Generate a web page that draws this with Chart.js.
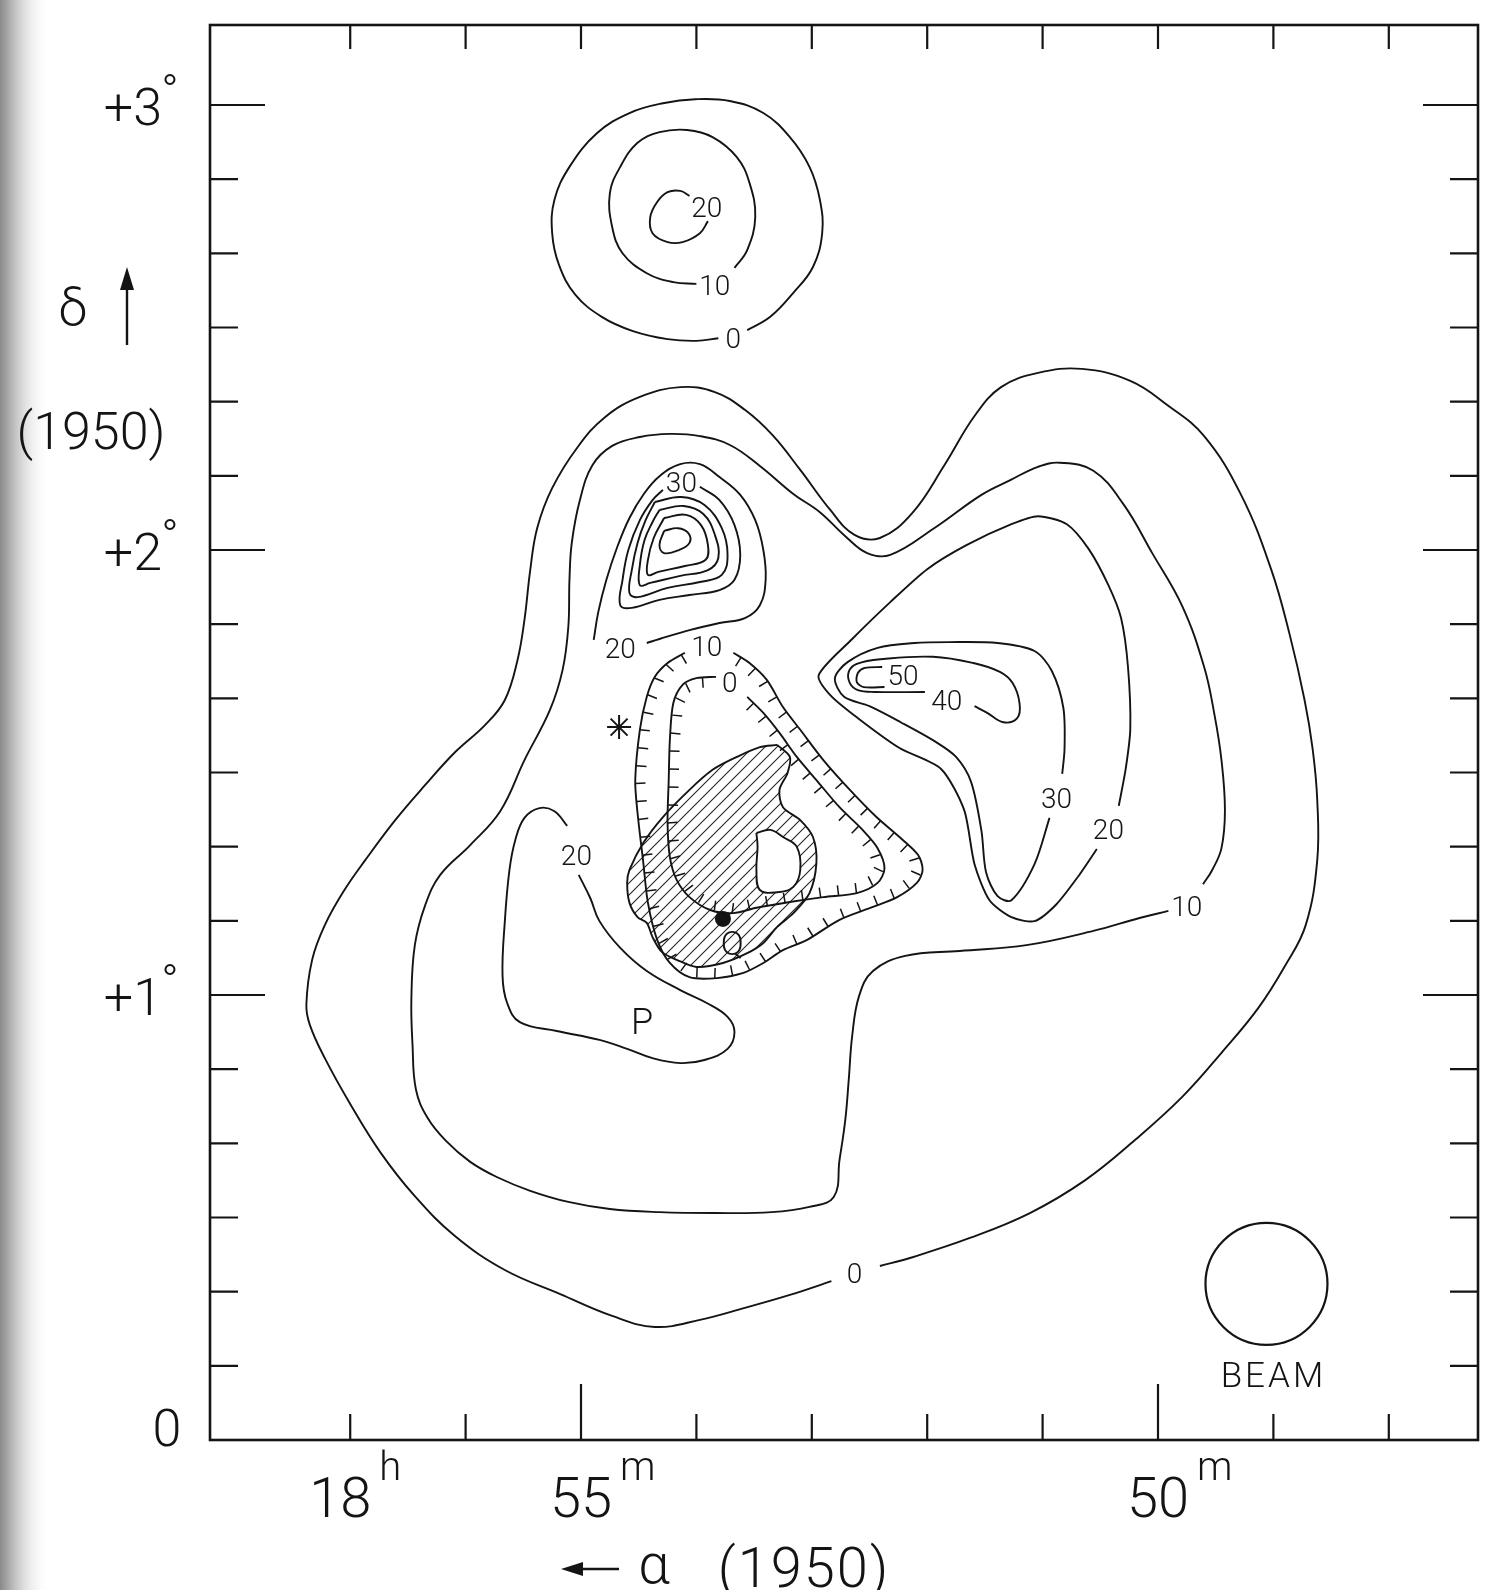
<!DOCTYPE html>
<html>
<head>
<meta charset="utf-8">
<script src="https://cdn.jsdelivr.net/npm/chart.js@4.4.1/dist/chart.umd.min.js"></script>
<style>
  html, body { margin: 0; padding: 0; background: #fff; }
  #wrap { width: 1490px; height: 1590px; }
</style>
</head>
<body>
<div id="wrap"><canvas id="map" width="1490" height="1590"></canvas></div>
<script>
// x = right ascension in minutes of time (18h xx m), y = declination in degrees (1950)

// big complex, outer 0 contour (open at its label)
const outer0 = [[52.83,0.357],[53.19,0.326],[53.58,0.297],[53.97,0.270],[54.36,0.254],[54.73,0.279],[55.18,0.328],[55.66,0.382],[56.09,0.458],[56.44,0.548],[56.74,0.647],[57.00,0.755],[57.22,0.858],[57.35,0.933],[57.38,0.978],[57.33,1.079],[57.22,1.157],[57.05,1.236],[56.87,1.303],[56.61,1.393],[56.35,1.472],[56.09,1.546],[55.83,1.607],[55.66,1.663],[55.55,1.753],[55.49,1.843],[55.44,1.955],[55.38,2.049],[55.25,2.139],[55.03,2.231],[54.79,2.299],[54.49,2.344],[54.14,2.366],[53.84,2.355],[53.58,2.315],[53.34,2.258],[53.10,2.180],[52.84,2.090],[52.63,2.034],[52.41,2.027],[52.13,2.083],[51.85,2.191],[51.59,2.301],[51.36,2.366],[51.04,2.398],[50.66,2.407],[50.24,2.380],[49.92,2.326],[49.60,2.256],[49.28,2.124],[49.02,1.957],[48.86,1.811],[48.73,1.663],[48.66,1.553],[48.62,1.438],[48.62,1.303],[48.72,1.157],[48.90,1.065],[49.13,0.971],[49.45,0.870],[49.79,0.771],[50.20,0.674],[50.63,0.584],[51.11,0.510],[51.63,0.454],[52.15,0.409],[52.41,0.391]];

const outer10 = [[49.91,1.189],[50.16,1.173],[50.56,1.144],[51.14,1.112],[51.72,1.099],[52.19,1.088],[52.47,1.054],[52.59,0.998],[52.65,0.908],[52.68,0.809],[52.71,0.719],[52.76,0.629],[52.81,0.546],[53.02,0.524],[53.35,0.512],[53.84,0.510],[54.32,0.512],[54.75,0.519],[55.11,0.535],[55.44,0.560],[55.73,0.591],[55.96,0.625],[56.17,0.672],[56.33,0.724],[56.43,0.787],[56.46,0.888],[56.47,0.991],[56.44,1.112],[56.35,1.202],[56.22,1.270],[55.96,1.337],[55.70,1.413],[55.49,1.528],[55.27,1.640],[55.16,1.730],[55.11,1.827],[55.10,1.933],[55.08,2.016],[55.01,2.112],[54.90,2.191],[54.73,2.234],[54.49,2.254],[54.23,2.261],[53.97,2.256],[53.71,2.236],[53.45,2.189],[53.16,2.126],[52.93,2.085],[52.71,2.031],[52.52,1.993],[52.32,1.989],[51.94,2.049],[51.53,2.124],[51.28,2.157],[51.04,2.187],[50.85,2.196],[50.56,2.178],[50.30,2.103],[50.05,1.993],[49.79,1.874],[49.60,1.737],[49.51,1.629],[49.45,1.528],[49.42,1.416],[49.45,1.330],[49.53,1.281],[49.61,1.249]];

// 20 contour round P
const contourP20 = [[55.02,1.270],[54.92,1.218],[54.84,1.166],[54.66,1.106],[54.43,1.054],[54.14,1.011],[53.91,0.982],[53.73,0.951],[53.67,0.917],[53.73,0.879],[53.93,0.854],[54.14,0.847],[54.38,0.858],[54.60,0.879],[54.84,0.899],[55.21,0.919],[55.53,0.939],[55.64,0.982],[55.68,1.043],[55.66,1.166],[55.62,1.281],[55.57,1.348],[55.49,1.398],[55.36,1.420],[55.23,1.413],[55.12,1.380]];

// northern peak near 18h54m, +2 deg
const peak20 = [[54.43,1.791],[54.32,1.800],[54.06,1.820],[53.80,1.836],[53.58,1.847],[53.45,1.876],[53.40,1.933],[53.42,2.000],[53.49,2.067],[53.62,2.124],[53.80,2.164],[53.97,2.193],[54.14,2.193],[54.32,2.166],[54.45,2.128],[54.58,2.072],[54.69,2.004],[54.78,1.933],[54.85,1.861],[54.89,1.798]];
const peak30 = [[53.97,2.142],[53.80,2.112],[53.67,2.056],[53.62,1.989],[53.67,1.933],[53.80,1.910],[54.06,1.899],[54.32,1.888],[54.56,1.870],[54.66,1.876],[54.64,1.933],[54.59,2.000],[54.49,2.067],[54.38,2.112],[54.29,2.135]];
const peakRing1 = [[54.36,2.108],[54.13,2.119],[53.93,2.101],[53.78,2.049],[53.73,1.989],[53.78,1.944],[53.97,1.928],[54.25,1.915],[54.51,1.894],[54.58,1.903],[54.56,1.955],[54.51,2.016],[54.44,2.067]];
const peakRing2 = [[54.32,2.090],[54.11,2.099],[53.94,2.081],[53.84,2.034],[53.81,1.982],[53.90,1.955],[54.14,1.942],[54.40,1.926],[54.49,1.921],[54.49,1.966],[54.45,2.022],[54.38,2.063]];
const peakRing3 = [[54.28,2.072],[54.09,2.079],[53.96,2.056],[53.90,2.011],[53.92,1.978],[54.10,1.964],[54.33,1.951],[54.42,1.944],[54.42,1.978],[54.37,2.027]];
const peakRing4 = [[54.28,2.043],[54.16,2.049],[54.07,2.038],[54.06,2.016],[54.15,2.000],[54.28,1.993],[54.32,2.011]];

// eastern ridge near 18h52m
const ridge20 = [[50.34,1.425],[50.28,1.508],[50.24,1.598],[50.26,1.737],[50.32,1.847],[50.43,1.921],[50.60,2.002],[50.79,2.058],[51.04,2.076],[51.27,2.058],[51.66,2.011],[52.00,1.957],[52.32,1.883],[52.65,1.800],[52.94,1.719],[52.84,1.674],[52.60,1.622],[52.24,1.555],[51.88,1.508],[51.68,1.416],[51.59,1.294],[51.46,1.213],[51.27,1.175],[51.07,1.166],[50.88,1.204],[50.69,1.267],[50.53,1.328]];
const ridge30 = [[50.83,1.497],[50.81,1.553],[50.82,1.645],[50.92,1.728],[51.07,1.773],[51.39,1.791],[51.81,1.793],[52.11,1.791],[52.43,1.780],[52.69,1.748],[52.80,1.712],[52.72,1.670],[52.50,1.649],[52.23,1.613],[51.94,1.571],[51.75,1.535],[51.62,1.479],[51.53,1.369],[51.49,1.276],[51.39,1.222],[51.27,1.213],[51.07,1.294],[50.94,1.398]];
const ridge40 = [[51.59,1.649],[51.48,1.634],[51.34,1.613],[51.22,1.622],[51.20,1.656],[51.26,1.701],[51.37,1.726],[51.60,1.746],[51.95,1.760],[52.38,1.755],[52.61,1.744],[52.68,1.726],[52.67,1.701],[52.60,1.685],[52.45,1.681],[52.02,1.681]];
const ridge50 = [[52.39,1.737],[52.54,1.735],[52.60,1.724],[52.61,1.703],[52.55,1.692],[52.37,1.692]];

// isolated source at +2.8 deg
const north0 = [[53.56,2.494],[53.36,2.524],[53.16,2.578],[52.99,2.636],[52.91,2.712],[52.93,2.787],[53.02,2.861],[53.19,2.928],[53.42,2.982],[53.71,3.009],[54.01,3.013],[54.29,3.004],[54.58,2.982],[54.86,2.937],[55.10,2.861],[55.23,2.787],[55.25,2.712],[55.19,2.640],[55.05,2.574],[54.82,2.524],[54.55,2.492],[54.25,2.474],[54.00,2.470],[53.81,2.476]];
const north10 = [[53.67,2.634],[53.56,2.674],[53.49,2.748],[53.54,2.825],[53.65,2.883],[53.86,2.928],[54.08,2.944],[54.32,2.939],[54.51,2.915],[54.66,2.861],[54.75,2.802],[54.73,2.726],[54.64,2.667],[54.43,2.622],[54.20,2.602],[54.00,2.598]];
const north20 = [[54.06,2.796],[54.14,2.807],[54.25,2.804],[54.34,2.782],[54.40,2.748],[54.38,2.712],[54.25,2.692],[54.12,2.692],[53.97,2.712],[53.90,2.739]];

// depression contours (hachured) 10 and 0
const dip10 = [[53.68,1.769],[53.54,1.746],[53.39,1.708],[53.25,1.647],[53.10,1.596],[52.90,1.528],[52.67,1.461],[52.44,1.400],[52.24,1.355],[52.08,1.315],[52.04,1.281],[52.09,1.252],[52.26,1.220],[52.47,1.198],[52.76,1.169],[53.04,1.124],[53.25,1.101],[53.42,1.072],[53.60,1.049],[53.82,1.038],[54.06,1.040],[54.23,1.072],[54.34,1.124],[54.42,1.207],[54.46,1.297],[54.51,1.409],[54.53,1.483],[54.49,1.596],[54.43,1.670],[54.36,1.715],[54.25,1.746],[54.10,1.769]];
const dip0 = [[53.56,1.670],[53.42,1.634],[53.28,1.589],[53.13,1.535],[52.96,1.483],[52.76,1.422],[52.56,1.371],[52.43,1.330],[52.37,1.285],[52.43,1.252],[52.61,1.229],[52.90,1.220],[53.19,1.209],[53.48,1.196],[53.68,1.184],[53.88,1.191],[54.06,1.220],[54.17,1.258],[54.23,1.310],[54.25,1.387],[54.24,1.483],[54.23,1.573],[54.20,1.656],[54.12,1.697],[54.00,1.712],[53.83,1.715]];

// hatched region and the clear hole inside it
const hatchArea = [[53.30,1.562],[53.19,1.535],[53.21,1.499],[53.28,1.461],[53.25,1.422],[53.10,1.393],[52.99,1.355],[52.96,1.297],[53.02,1.229],[53.16,1.184],[53.30,1.153],[53.42,1.117],[53.56,1.094],[53.77,1.072],[54.00,1.063],[54.17,1.079],[54.30,1.097],[54.38,1.130],[54.43,1.162],[54.51,1.175],[54.58,1.207],[54.60,1.252],[54.58,1.281],[54.46,1.342],[54.29,1.400],[54.06,1.461],[53.86,1.506],[53.65,1.535],[53.45,1.557]];
const hatchHole = [[53.48,1.364],[53.36,1.371],[53.25,1.355],[53.13,1.333],[53.10,1.281],[53.16,1.243],[53.30,1.231],[53.45,1.236],[53.48,1.281],[53.47,1.333]];

// marked objects
const pointQ = [53.77, 1.171];
const starPos = [54.67, 1.602];
const beamPos = [49.06, 0.351];

const contourLabels = [['20',53.91,2.771],['10',53.84,2.596],['0',53.68,2.476],['30',54.13,2.153],['20',54.66,1.780],['10',53.91,1.784],['0',53.71,1.703],['50',52.21,1.719],['40',51.83,1.663],['30',50.88,1.443],['20',50.43,1.373],['10',49.75,1.200],['20',55.04,1.315],['0',52.63,0.375]];
const markLabels = [['P',54.47,0.942],['Q',53.69,1.117],['BEAM',49.00,0.148]];

// axes
const raTicks = [57, 56, 55, 54, 53, 52, 51, 50, 49, 48];
const raMajor = [55, 50];
const raLabels = [[57,'18','h'],[55,'55','m'],[50,'50','m']];
const decTicksArcmin = [10,20,30,40,50,60,70,80,90,100,110,120,130,140,150,160,170,180];
const decLabels = [[3,'+3'],[2,'+2'],[1,'+1'],[0,'0']];

const INK = '#141414';
const FONT = "Roboto, 'DejaVu Sans', sans-serif";

function hatchPattern() {
    const c = document.createElement('canvas');
    c.width = c.height = 12;
    const g = c.getContext('2d');
    g.strokeStyle = '#262626';
    g.lineWidth = 1.1;
    g.beginPath();
    g.moveTo(0, 12); g.lineTo(12, 0);
    g.moveTo(-2, 2); g.lineTo(2, -2);
    g.moveTo(10, 14); g.lineTo(14, 10);
    g.stroke();
    return g.createPattern(c, 'repeat');
}

const closed = pts => pts.concat([pts[0]]);
const toXY = pts => pts.map(([x, y]) => ({ x, y }));

function contour(pts, extra = {}) {
    return Object.assign({
        data: toXY(pts),
        showLine: true,
        pointRadius: 0,
        borderColor: INK,
        borderWidth: 1.9,
        tension: 0.4,
        fill: false,
        order: 0
    }, extra);
}

function ctext(ctx, s, px, py, size, align = 'center') {
    ctx.font = `300 ${size}px ${FONT}`;
    ctx.textAlign = align;
    ctx.textBaseline = 'alphabetic';
    ctx.fillText(s, px, py + size * 0.355);
}

function drawHachures(ctx, pts, spacing, len) {
    let area = 0;
    for (let i = 0; i < pts.length; i++) {
        const a = pts[i], b = pts[(i + 1) % pts.length];
        area += a[0] * b[1] - b[0] * a[1];
    }
    const s = area > 0 ? 1 : -1;
    let carry = spacing / 2;
    ctx.beginPath();
    for (let i = 0; i < pts.length - 1; i++) {
        const [x0, y0] = pts[i], [x1, y1] = pts[i + 1];
        const dx = x1 - x0, dy = y1 - y0, L = Math.hypot(dx, dy);
        if (!L) continue;
        const nx = -dy / L * s, ny = dx / L * s;
        let t = carry;
        while (t <= L) {
            const px = x0 + dx * t / L, py = y0 + dy * t / L;
            ctx.moveTo(px, py);
            ctx.lineTo(px + nx * len, py + ny * len);
            t += spacing;
        }
        carry = t - L;
    }
    ctx.stroke();
}

const mapDecor = {
    id: 'mapDecor',
    beforeDraw(chart) {
        const { ctx, width, height } = chart;
        ctx.save();
        ctx.fillStyle = '#fff';
        ctx.fillRect(0, 0, width, height);
        // page shadow on the left edge of the scan
        const g = ctx.createLinearGradient(0, 0, 50, 0);
        g.addColorStop(0, '#8a8a8a');
        g.addColorStop(0.3, '#c2c2c2');
        g.addColorStop(1, 'rgba(255,255,255,0)');
        ctx.fillStyle = g;
        ctx.fillRect(0, 0, 50, height);
        ctx.restore();
    },
    afterDatasetsDraw(chart) {
        const { ctx, chartArea: a, scales: { x, y } } = chart;
        ctx.save();
        ctx.strokeStyle = INK;
        ctx.fillStyle = INK;

        chart.data.datasets.forEach((ds, i) => {
            if (!ds.hachure) return;
            const pts = chart.getDatasetMeta(i).data.map(p => [p.x, p.y]);
            ctx.lineWidth = 1.5;
            drawHachures(ctx, pts, 18, 10);
        });

        // frame and inward ticks
        ctx.lineWidth = 2.6;
        ctx.strokeRect(a.left, a.top, a.right - a.left, a.bottom - a.top);
        ctx.lineWidth = 2.2;
        ctx.beginPath();
        decTicksArcmin.forEach(m => {
            const py = y.getPixelForValue(m / 60);
            if (py <= a.top + 2 || py >= a.bottom - 2) return;
            const len = m % 60 === 0 ? 55 : 28;
            ctx.moveTo(a.left, py); ctx.lineTo(a.left + len, py);
            ctx.moveTo(a.right, py); ctx.lineTo(a.right - len, py);
        });
        raTicks.forEach(ra => {
            const px = x.getPixelForValue(ra);
            const len = raMajor.includes(ra) ? 56 : 26;
            ctx.moveTo(px, a.bottom); ctx.lineTo(px, a.bottom - len);
            ctx.moveTo(px, a.top); ctx.lineTo(px, a.top + 24);
        });
        ctx.stroke();

        // contour labels
        contourLabels.forEach(([t, ra, dec]) => {
            ctext(ctx, t, x.getPixelForValue(ra), y.getPixelForValue(dec), 28);
        });
        const markSize = { P: 36, Q: 34, BEAM: 35 };
        markLabels.forEach(([t, ra, dec]) => {
            ctx.letterSpacing = t === 'BEAM' ? '3px' : '0px';
            ctext(ctx, t, x.getPixelForValue(ra), y.getPixelForValue(dec), markSize[t]);
        });
        ctx.letterSpacing = '0px';

        // declination labels
        decLabels.forEach(([d, t]) => {
            const py = y.getPixelForValue(d);
            if (d === 0) {
                ctext(ctx, t, a.left - 43, py - 12, 52);
                return;
            }
            ctext(ctx, t, a.left - 48, py + 2, 52, 'right');
            ctx.font = `300 46px ${FONT}`;
            ctx.textAlign = 'center';
            ctx.fillText('°', a.left - 40, py + 2);
        });

        // right ascension labels
        const nudge = { 57: -10 };
        raLabels.forEach(([ra, t, sup]) => {
            const px = x.getPixelForValue(ra) + (nudge[ra] || 0);
            ctext(ctx, t, px, a.bottom + 57, 56);
            const w = ctx.measureText(t).width;
            ctx.font = `300 40px ${FONT}`;
            ctx.textAlign = 'left';
            ctx.fillText(sup, px + w / 2 + 8, a.bottom + 40);
        });

        // axis titles
        ctx.font = `300 52px ${FONT}`;
        ctx.textAlign = 'center';
        ctx.fillText('δ', 73, 325);
        ctext(ctx, '(1950)', 91, 431, 52);
        ctx.font = `300 56px ${FONT}`;
        ctx.fillText('α', 654, 1583);
        ctx.letterSpacing = '2px';
        ctext(ctx, '(1950)', 804, 1567, 56);
        ctx.letterSpacing = '0px';

        // arrows
        ctx.lineWidth = 2.4;
        ctx.beginPath();
        ctx.moveTo(127, 345); ctx.lineTo(127, 282);
        ctx.moveTo(619, 1569); ctx.lineTo(576, 1569);
        ctx.stroke();
        ctx.beginPath();
        ctx.moveTo(127, 267); ctx.lineTo(120, 290); ctx.lineTo(134, 290); ctx.closePath();
        ctx.moveTo(561, 1569); ctx.lineTo(583, 1562); ctx.lineTo(583, 1576); ctx.closePath();
        ctx.fill();
        ctx.restore();
    }
};

const datasets = [
    contour(outer0), contour(outer10), contour(contourP20),
    contour(peak20), contour(peak30),
    contour(closed(peakRing1)), contour(closed(peakRing2)), contour(closed(peakRing3)), contour(closed(peakRing4)),
    contour(ridge20, { tension: 0.25 }), contour(ridge30, { tension: 0.3 }), contour(ridge40), contour(ridge50, { tension: 0.3 }),
    contour(north0), contour(north10), contour(north20),
    contour(dip10, { hachure: true, tension: 0.3 }), contour(dip0, { hachure: true, tension: 0.3 }),
    contour(closed(hatchArea), { fill: 'shape', backgroundColor: hatchPattern(), order: 20, tension: 0.3 }),
    contour(closed(hatchHole), { fill: 'shape', backgroundColor: '#ffffff', order: 19, tension: 0.4 }),
    { data: toXY([pointQ]), showLine: false, pointRadius: 8, backgroundColor: INK, borderWidth: 0, order: 0 },
    { data: toXY([starPos]), showLine: false, pointStyle: 'star', pointRadius: 12, borderColor: INK, borderWidth: 2, order: 0 },
    { data: toXY([beamPos]), showLine: false, pointStyle: 'circle', pointRadius: 61, borderColor: INK, borderWidth: 2.2, backgroundColor: 'rgba(0,0,0,0)', order: 0 }
];

new Chart(document.getElementById('map'), {
    type: 'scatter',
    data: { datasets },
    options: {
        responsive: false,
        animation: false,
        devicePixelRatio: 1,
        events: [],
        layout: { autoPadding: false, padding: { left: 210, right: 12, top: 25, bottom: 150 } },
        plugins: { legend: { display: false }, tooltip: { enabled: false } },
        scales: {
            x: { type: 'linear', reverse: true, min: 47.227, max: 58.215, display: false },
            y: { type: 'linear', min: 0, max: 3.1798, display: false }
        }
    },
    plugins: [mapDecor]
});
</script>
</body>
</html>
